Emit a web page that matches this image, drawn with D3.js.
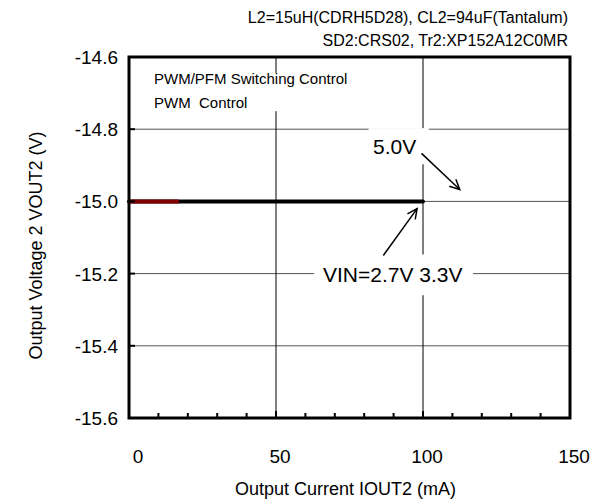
<!DOCTYPE html>
<html>
<head>
<meta charset="utf-8">
<script src="https://cdn.jsdelivr.net/npm/d3@7"></script>
<style>
  body { margin: 0; background: #fff; }
  text { font-family: "Liberation Sans", Arial, sans-serif; fill: #000; white-space: pre; }
</style>
</head>
<body>
<div id="chart"></div>
<script>
// values
const xTicks = [0, 50, 100, 150];
const yTicks = [-14.6, -14.8, -15.0, -15.2, -15.4, -15.6];
const currentVin = [0, 10, 20, 30, 40, 50, 60, 70, 80, 90, 100];   // mA
const voltVin = [-15.0, -15.0, -15.0, -15.0, -15.0, -15.0, -15.0, -15.0, -15.0, -15.0, -15.0];
const currentRed = [0, 5, 10, 17];
const voltRed = [-15.0, -15.0, -15.0, -15.0];
const headerLines = ["L2=15uH(CDRH5D28), CL2=94uF(Tantalum)", "SD2:CRS02, Tr2:XP152A12C0MR"];
const modeLines = ["PWM/PFM Switching Control", "PWM  Control"];

const W = 598, H = 501;
const margin = { top: 57, right: 28, bottom: 83, left: 129 };
const width = W - margin.left - margin.right,
      height = H - margin.top - margin.bottom;

const svg = d3.select("#chart").append("svg")
    .attr("width", W)
    .attr("height", H);

const g = svg.append("g")
    .attr("transform", `translate(${margin.left},${margin.top})`);

const x = d3.scaleLinear().domain([0, 150]).range([0, width]);
const y = d3.scaleLinear().domain([-15.6, -14.6]).range([height, 0]);

// grid
g.append("g")
    .selectAll("line")
    .data(yTicks.slice(1, -1))
    .enter().append("line")
    .attr("x1", 0).attr("x2", width)
    .attr("y1", d => y(d)).attr("y2", d => y(d))
    .attr("stroke", "#555").attr("stroke-width", 1);
g.append("g")
    .selectAll("line")
    .data([50, 100])
    .enter().append("line")
    .attr("x1", d => x(d)).attr("x2", d => x(d))
    .attr("y1", 0).attr("y2", height)
    .attr("stroke", "#000").attr("stroke-width", 1);

// white boxes behind the labels (they cut the grid)
function whiteBox(px, py, w, h) {
    g.append("rect").attr("x", px).attr("y", py).attr("width", w).attr("height", h).attr("fill", "#fff");
}
whiteBox(x(6), y(-14.644), x(80) - x(6), y(-14.75) - y(-14.644));
whiteBox(x(81.5), y(-14.797), x(102) - x(81.5), y(-14.897) - y(-14.797));
whiteBox(x(63), y(-15.147), x(117) - x(63), y(-15.26) - y(-15.147));

// series
const line = d3.line().x(d => x(d[0])).y(d => y(d[1]));
g.append("path")
    .datum(d3.zip(currentVin, voltVin))
    .attr("d", line)
    .attr("fill", "none").attr("stroke", "#000")
    .attr("stroke-width", 4).attr("stroke-linecap", "round");
g.append("path")
    .datum(d3.zip(currentRed, voltRed))
    .attr("d", line)
    .attr("fill", "none").attr("stroke", "#800000")
    .attr("stroke-width", 4);

// frame
g.append("rect")
    .attr("width", width).attr("height", height)
    .attr("fill", "none").attr("stroke", "#000").attr("stroke-width", 3);

// ticks (inward)
g.append("g")
    .selectAll("line")
    .data(d3.range(10, 150, 10))
    .enter().append("line")
    .attr("x1", d => x(d)).attr("x2", d => x(d))
    .attr("y1", height).attr("y2", d => height - (d % 50 === 0 ? 7 : 5))
    .attr("stroke", "#000").attr("stroke-width", 2);
g.append("g")
    .selectAll("line")
    .data(yTicks.slice(1, -1))
    .enter().append("line")
    .attr("x1", 0).attr("x2", 6)
    .attr("y1", d => y(d)).attr("y2", d => y(d))
    .attr("stroke", "#000").attr("stroke-width", 2);

// tick labels
g.append("g")
    .selectAll("text")
    .data(xTicks)
    .enter().append("text")
    .attr("x", d => x(d) + (d === 0 ? 9 : 4))
    .attr("y", height + 45)
    .attr("text-anchor", "middle")
    .style("font-size", "19px")
    .text(d => d);
g.append("g")
    .selectAll("text")
    .data(yTicks)
    .enter().append("text")
    .attr("x", -11)
    .attr("y", d => y(d) + 7)
    .attr("text-anchor", "end")
    .style("font-size", "19px")
    .text(d => d.toFixed(1));

// axis titles
g.append("text")
    .attr("x", width / 2 - 4)
    .attr("y", height + 77)
    .attr("text-anchor", "middle")
    .style("font-size", "18px")
    .text("Output Current IOUT2 (mA)");
g.append("text")
    .attr("transform", "rotate(-90)")
    .attr("x", -height / 2 - 8)
    .attr("y", -margin.left + 42)
    .attr("text-anchor", "middle")
    .style("font-size", "18px")
    .text("Output Voltage 2 VOUT2 (V)");

// header
svg.append("g")
    .selectAll("text")
    .data(headerLines)
    .enter().append("text")
    .attr("x", 568)
    .attr("y", (d, i) => 23 + i * 23)
    .attr("text-anchor", "end")
    .style("font-size", "16px")
    .text(d => d);

// inner labels
g.append("g")
    .selectAll("text")
    .data(modeLines)
    .enter().append("text")
    .attr("x", x(8.5))
    .attr("y", (d, i) => y(-14.675) + i * 24)
    .style("font-size", "15px")
    .text(d => d);

g.append("text")
    .attr("x", x(83))
    .attr("y", y(-14.87))
    .style("font-size", "21px")
    .text("5.0V");
g.append("text")
    .attr("x", x(66))
    .attr("y", y(-15.222))
    .style("font-size", "21px")
    .text("VIN=2.7V 3.3V");

// arrows
function arrow(x0, y0, x1, y1) {
    g.append("line")
        .attr("x1", x(x0)).attr("y1", y(y0)).attr("x2", x(x1)).attr("y2", y(y1))
        .attr("stroke", "#000").attr("stroke-width", 1.5);
    const ang = Math.atan2(y(y1) - y(y0), x(x1) - x(x0));
    const L = 11, a = 0.45;
    const tx = x(x1), ty = y(y1);
    g.append("path")
        .attr("d", `M${tx - L * Math.cos(ang - a)},${ty - L * Math.sin(ang - a)}L${tx},${ty}L${tx - L * Math.cos(ang + a)},${ty - L * Math.sin(ang + a)}`)
        .attr("fill", "none").attr("stroke", "#000").attr("stroke-width", 1.5);
}
arrow(99.5, -14.867, 112.5, -14.967);
arrow(86.5, -15.15, 98, -15.02);
</script>
</body>
</html>
